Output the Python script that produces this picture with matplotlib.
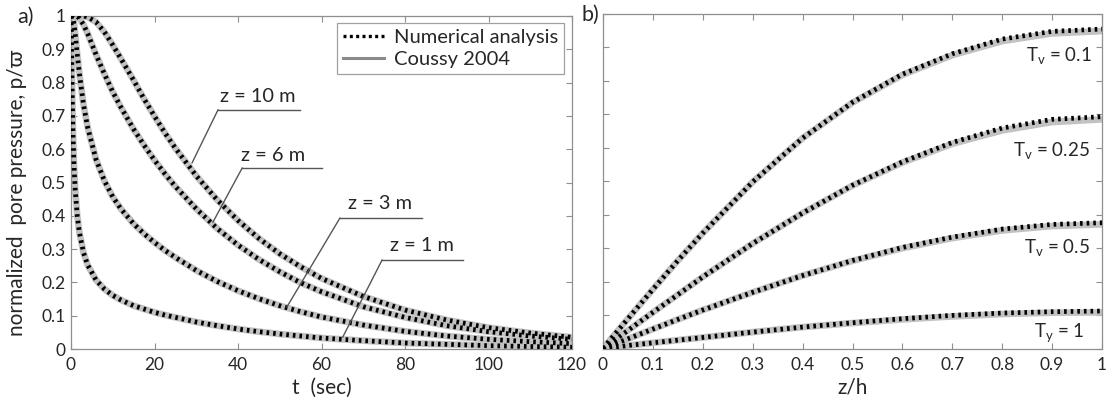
import matplotlib
matplotlib.use("Agg")
import matplotlib.pyplot as plt
from matplotlib.lines import Line2D
from matplotlib.ticker import FormatStrFormatter

plt.rcParams["font.family"] = ["Lato", "DejaVu Sans"]
plt.rcParams["mathtext.fontset"] = "custom"
plt.rcParams["mathtext.rm"] = "Lato"
plt.rcParams["mathtext.it"] = "Lato:italic"

# ---- a) normalized pore pressure vs time at four depths ----
time_s = [0, 0.1, 0.2, 0.3, 0.5, 0.75, 1, 1.5, 2, 3, 4, 6, 8, 10, 12, 15, 17.5,
          20, 22.5, 25, 30, 35, 40, 45, 50, 55, 60, 70, 80, 90, 100, 110, 120]
p_z1 = [1.0, 0.956, 0.849, 0.759, 0.637, 0.542, 0.480, 0.400, 0.351, 0.289, 0.252,
        0.207, 0.180, 0.161, 0.147, 0.130, 0.120, 0.110, 0.102, 0.095, 0.081, 0.070,
        0.060, 0.052, 0.045, 0.039, 0.033, 0.025, 0.018, 0.014, 0.010, 0.0075, 0.0055]
p_z3 = [1.0, 1.0, 1.0, 1.0, 0.993, 0.974, 0.947, 0.885, 0.828, 0.734, 0.665,
        0.569, 0.505, 0.457, 0.420, 0.376, 0.346, 0.320, 0.296, 0.275, 0.236, 0.203,
        0.175, 0.151, 0.130, 0.112, 0.096, 0.072, 0.053, 0.039, 0.029, 0.022, 0.016]
p_z6 = [1.0, 1.0, 1.0, 1.0, 1.0, 1.0, 1.0, 0.998, 0.993, 0.974, 0.947,
        0.884, 0.826, 0.772, 0.725, 0.660, 0.612, 0.567, 0.526, 0.488, 0.421, 0.362,
        0.312, 0.269, 0.232, 0.199, 0.172, 0.127, 0.095, 0.070, 0.052, 0.039, 0.029]
p_z10 = [1.0, 1.0, 1.0, 1.0, 1.0, 1.0, 1.0, 1.0, 1.0, 1.0, 0.997,
         0.982, 0.952, 0.913, 0.871, 0.807, 0.751, 0.699, 0.649, 0.603, 0.520, 0.448,
         0.386, 0.332, 0.286, 0.247, 0.212, 0.158, 0.117, 0.087, 0.064, 0.048, 0.035]
depth_curves = [p_z1, p_z3, p_z6, p_z10]

# ---- b) normalized pore pressure vs z/h at four time factors ----
z_over_h = [0, 0.02, 0.05, 0.1, 0.15, 0.2, 0.3, 0.4, 0.5, 0.6, 0.7, 0.8, 0.9, 1.0]
coussy_tv01 = [0, 0.036, 0.089, 0.177, 0.263, 0.345, 0.498, 0.629, 0.735, 0.818, 0.877, 0.919, 0.942, 0.949]
coussy_tv025 = [0, 0.022, 0.054, 0.108, 0.161, 0.214, 0.314, 0.405, 0.487, 0.556, 0.612, 0.652, 0.677, 0.685]
coussy_tv05 = [0, 0.012, 0.029, 0.058, 0.087, 0.115, 0.168, 0.218, 0.262, 0.300, 0.330, 0.353, 0.366, 0.371]
coussy_tv1 = [0, 0.003, 0.009, 0.017, 0.025, 0.033, 0.049, 0.064, 0.076, 0.087, 0.096, 0.103, 0.107, 0.108]
num_tv01 = [0, 0.036, 0.089, 0.177, 0.263, 0.345, 0.498, 0.629, 0.736, 0.820, 0.881, 0.925, 0.948, 0.955]
num_tv025 = [0, 0.022, 0.054, 0.108, 0.161, 0.214, 0.314, 0.405, 0.488, 0.558, 0.616, 0.659, 0.685, 0.693]
num_tv05 = [0, 0.012, 0.029, 0.058, 0.087, 0.115, 0.168, 0.218, 0.263, 0.302, 0.333, 0.357, 0.371, 0.376]
num_tv1 = [0, 0.003, 0.009, 0.017, 0.025, 0.033, 0.049, 0.064, 0.077, 0.089, 0.099, 0.106, 0.110, 0.112]

t_ticks = [0, 20, 40, 60, 80, 100, 120]
p_ticks = [0, 0.1, 0.2, 0.3, 0.4, 0.5, 0.6, 0.7, 0.8, 0.9, 1]
zh_ticks = [0, 0.1, 0.2, 0.3, 0.4, 0.5, 0.6, 0.7, 0.8, 0.9, 1]

# line styles
GRAY = "#c2c2c2"
SPINE = "#8f8f8f"
TEXT = "#262626"
gray_kw = dict(color=GRAY, lw=4.8, solid_capstyle="butt", zorder=2)
num_kw = dict(color="black", lw=3.4, dashes=(0.55, 0.85), dash_capstyle="butt", zorder=3)

fig = plt.figure(figsize=(11.1, 4.05), dpi=100)
W, H = 1110, 405
ax1 = fig.add_axes([71 / W, 1 - 349 / H, (572 - 71) / W, (349 - 16) / H])
ax2 = fig.add_axes([603 / W, 1 - 348.5 / H, (1102 - 603) / W, (348.5 - 14) / H])

for ax in (ax1, ax2):
    for s in ax.spines.values():
        s.set_color(SPINE)
        s.set_linewidth(0.9)
    ax.tick_params(direction="in", length=4, width=0.8, color=SPINE,
                   top=True, right=True, labelsize=12.5, labelcolor=TEXT)
    ax.tick_params(axis="x", pad=6)
    ax.tick_params(axis="y", pad=4)

# panel a
for vals in depth_curves:
    ax1.plot(time_s, vals, **gray_kw)
for vals in depth_curves:
    ax1.plot(time_s, vals, **num_kw)
ax1.set_xlim(0, 120)
ax1.set_ylim(0, 1)
ax1.set_xticks(t_ticks)
ax1.set_yticks(p_ticks)
ax1.yaxis.set_major_formatter(FormatStrFormatter("%g"))
ax1.set_xlabel("t  (sec)", fontsize=15, color=TEXT)
ax1.set_ylabel("normalized  pore pressure, p/\u03d6", fontsize=15, color=TEXT)
ax1.yaxis.set_label_coords(-0.088, 0.47)
ax1.xaxis.set_label_coords(0.5, -0.088)

leader = dict(color="#555555", lw=1.0, zorder=4)
labels_a = [
    # text, text xy, horizontal start, horizontal end, diagonal end
    ("z = 10 m", (44.8, 0.757), (35.2, 0.718), (54.9, 0.718), (29.0, 0.559)),
    ("z = 6 m", (48.4, 0.580), (41.0, 0.5435), (60.1, 0.5435), (34.0, 0.381)),
    ("z = 3 m", (74.0, 0.438), (64.4, 0.393), (84.1, 0.393), (51.7, 0.126)),
    ("z = 1 m", (84.1, 0.312), (74.5, 0.267), (93.9, 0.267), (65.1, 0.036)),
]
for txt, txy, h0, h1, d1 in labels_a:
    ax1.text(*txy, txt, ha="center", va="center", fontsize=14.4, color=TEXT, zorder=5)
    ax1.plot([h0[0], h1[0]], [h0[1], h1[1]], **leader)
    ax1.plot([h0[0], d1[0]], [h0[1], d1[1]], **leader)

handles = [Line2D([], [], color="black", lw=2.4, dashes=(0.9, 1.0), dash_capstyle="butt"),
           Line2D([], [], color="#8a8a8a", lw=2.2)]
leg = ax1.legend(handles, ["Numerical analysis", "Coussy 2004"], loc="upper right",
                 bbox_to_anchor=(0.984, 0.979), borderaxespad=0, fontsize=14.5,
                 frameon=True, fancybox=False, framealpha=1, edgecolor="#a0a0a0",
                 handlelength=2.0, handletextpad=0.5, labelspacing=0.25,
                 borderpad=0.3)
leg.get_frame().set_linewidth(0.9)
for t in leg.get_texts():
    t.set_color(TEXT)

# panel b
coussy_b = [coussy_tv01, coussy_tv025, coussy_tv05, coussy_tv1]
num_b = [num_tv01, num_tv025, num_tv05, num_tv1]
for vals in coussy_b:
    ax2.plot(z_over_h, vals, **gray_kw)
for vals in num_b:
    ax2.plot(z_over_h, vals, **num_kw)
ax2.set_xlim(0, 1)
ax2.set_ylim(0, 1)
ax2.set_xticks(zh_ticks)
ax2.set_yticks(p_ticks)
ax2.xaxis.set_major_formatter(FormatStrFormatter("%g"))
ax2.tick_params(axis="y", labelleft=False)
ax2.set_xlabel("z/h", fontsize=15, color=TEXT)
ax2.xaxis.set_label_coords(0.5, -0.088)

labels_b = [
    (r"$\mathregular{T_v}$ = 0.1", 0.98, 0.877),
    (r"$\mathregular{T_v}$ = 0.25", 0.976, 0.593),
    (r"$\mathregular{T_v}$ = 0.5", 0.976, 0.303),
    (r"$\mathregular{T_y}$ = 1", 0.966, 0.049),
]
for txt, x, y in labels_b:
    ax2.text(x, y, txt, ha="right", va="center", fontsize=13.5, color=TEXT, zorder=5)

fig.text(25 / W, 1 - 17 / H, "a)", ha="center", va="center", fontsize=15.5, color=TEXT)
fig.text(590 / W, 1 - 15 / H, "b)", ha="center", va="center", fontsize=15.5, color=TEXT)

fig.savefig("out.png", dpi=100)
